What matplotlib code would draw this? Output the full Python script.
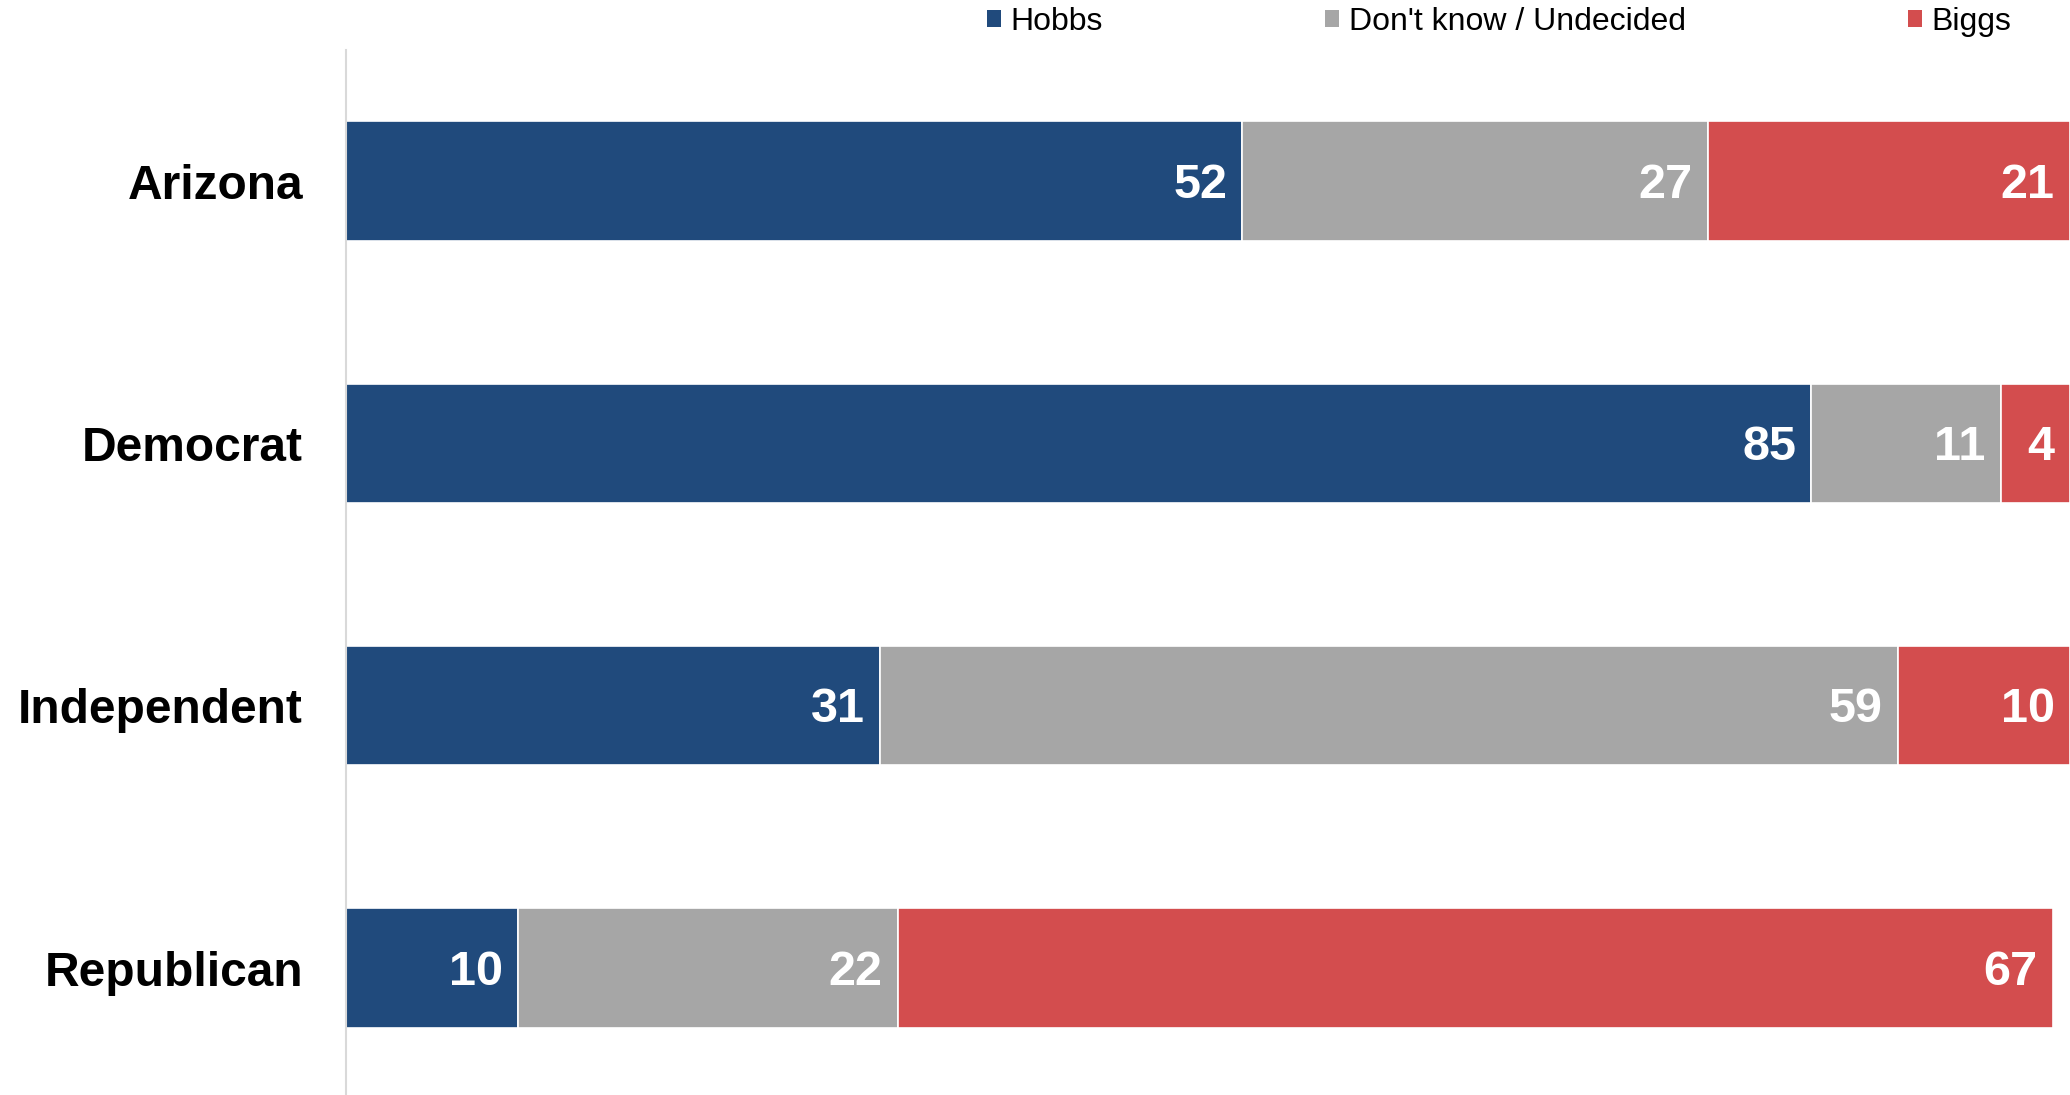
import matplotlib
matplotlib.use("Agg")
import matplotlib.pyplot as plt
from matplotlib.patches import Patch
import numpy as np

plt.rcParams['font.family'] = ['Liberation Sans', 'DejaVu Sans']

categories = ["Arizona", "Democrat", "Independent", "Republican"]
series_names = ["Hobbs", "Don't know / Undecided", "Biggs"]
hobbs = [52, 85, 31, 10]
undecided = [27, 11, 59, 22]
biggs = [21, 4, 10, 67]
colors = ["#204A7C", "#A6A6A6", "#D34D4E"]

W, H = 2070, 1095
fig = plt.figure(figsize=(W / 100, H / 100), dpi=100)
ax_h = 4 * 262.3
ax_top = 50
ax = fig.add_axes([346 / W, 1 - (ax_top + ax_h) / H, (2070 - 346) / W, ax_h / H])

y = np.arange(len(categories))
left = np.zeros(len(categories))
for vals, col in zip([hobbs, undecided, biggs], colors):
    vals = np.array(vals, dtype=float)
    ax.barh(y, vals, left=left, height=0.455, color=col,
            edgecolor="white", linewidth=1.2)
    for yi, l, v in zip(y, left, vals):
        ax.annotate(f"{int(v)}", xy=(l + v, yi), xytext=(-11, -3),
                    textcoords="offset points", ha="right", va="center",
                    color="white", fontsize=35, fontweight="bold")
    left = left + vals

ax.set_xlim(0, 100)
ax.set_ylim(3.5, -0.5)
ax.set_yticks(y)
ax.set_yticklabels(categories, fontsize=34.5, fontweight="bold", color="black")
ax.tick_params(axis="y", length=0, pad=31)
ax.set_xticks([])
for s in ["top", "right", "bottom"]:
    ax.spines[s].set_visible(False)
ax.spines["left"].set_color("#D9D9D9")
ax.spines["left"].set_linewidth(1.5)

handles = [Patch(facecolor=c, edgecolor="none") for c in colors]
fig.legend(handles, series_names, loc="center left",
           bbox_to_anchor=(987 / W, 1 - 22 / H), ncol=3, frameon=False,
           fontsize=23, borderpad=0, borderaxespad=0,
           handlelength=0.44, handleheight=0.44, handletextpad=0.3,
           columnspacing=6.95)

fig.savefig("out.png", dpi=100)
